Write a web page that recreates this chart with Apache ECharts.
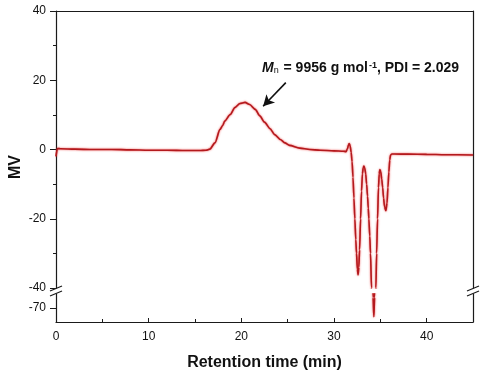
<!DOCTYPE html>
<html>
<head>
<meta charset="utf-8">
<script src="https://cdn.jsdelivr.net/npm/echarts@6/dist/echarts.min.js"></script>
<style>
html,body{margin:0;padding:0;background:#fff;}
#chart{width:482px;height:380px;}
</style>
</head>
<body>
<div id="chart"></div>
<script>
// Retention time (min)
const times = [
  0, 0.15, 0.5, 2, 4, 6, 8, 10, 12, 14, 15.5, 16.2, 16.6, 17.15, 17.7, 18.0, 18.2, 18.8, 19.3, 19.85,
  20.4, 20.9, 21.5, 22.0, 22.5, 23.1, 23.6, 24.2, 24.7, 25.2, 26.3, 27.4, 28.5, 30.0, 31.0, 31.3,
  31.45, 31.55, 31.64, 31.75, 31.85, 31.95, 32.05, 32.15, 32.25, 32.35, 32.43, 32.52, 32.6, 32.68,
  32.76, 32.87, 32.97, 33.07, 33.15, 33.23, 33.32, 33.42, 33.52, 33.62, 33.7, 33.76, 33.86, 33.94, 34.05,
  34.15, 34.22, 34.3, 34.38, 34.45, 34.52, 34.6, 34.7, 34.8, 34.88, 34.95, 35.05, 35.15, 35.25,
  35.35, 35.45, 35.6, 35.72, 35.82, 35.92, 36.02, 36.1, 36.25, 36.5, 38, 40, 42, 45
];
// Detector signal (MV)
const signal = [
  -2.0, 0.3, 0.2, 0.1, 0.0, 0.0, -0.1, -0.2, -0.2, -0.3, -0.3, -0.2, 0.1, 1.9, 5.8, 7.0, 8.2, 10.1, 12.1, 13.3,
  13.6, 13.0, 11.6, 9.7, 7.9, 6.0, 4.3, 2.9, 1.9, 1.2, 0.4, 0.0, -0.2, -0.4, -0.5, -0.6,
  0.2, 1.2, 1.7, 1.0, -0.8, -3.5, -8, -14, -20, -26, -30, -34.5, -36.2, -34,
  -29, -20, -12, -7, -5.3, -4.8, -5.4, -7, -10, -13.5, -17, -20, -25, -30, -40,
  -58, -67, -72.5, -67, -55, -40, -30, -20, -11, -7, -5.8, -6.5, -8.5, -11,
  -14, -16.5, -17.7, -15.5, -11, -6.5, -3, -1.6, -1.3, -1.3, -1.35, -1.4, -1.5, -1.6
];
// axis tick values
const xTicks = [0, 10, 20, 30, 40];
const upperTicks = [-40, -20, 0, 20, 40];
const lowerTicks = [-70];
// annotation
const annotationText = '{it|M}{sub|n} = 9956 g mol{sup|-1}, PDI = 2.029';
const arrowFrom = [24.8, 19.3];
const arrowTo = [22.35, 12.5];

const data = times.map((t, i) => [t, signal[i]]);
const FONT = "'Liberation Sans', Arial, sans-serif";
const AX = '#1a1a1a';
const LINE = '#b3191d';

const chart = echarts.init(document.getElementById('chart'), null, {renderer: 'canvas'});
const frameAxis = {
  axisLine: {show: true, onZero: false, lineStyle: {color: AX, width: 1.2}},
  axisTick: {show: false}, axisLabel: {show: false}, splitLine: {show: false}
};
const lineStyle = {color: LINE, width: 1.6, shadowColor: 'rgba(235,40,40,0.85)', shadowBlur: 2};
chart.setOption({
  animation: false,
  backgroundColor: '#fff',
  grid: [
    {left: 56, top: 11, width: 417, height: 277},
    {left: 56, top: 294, width: 417, height: 28}
  ],
  xAxis: [
    {type: 'value', gridIndex: 0, min: 0, max: 45, show: false},
    Object.assign({type: 'value', gridIndex: 0, position: 'top', min: 0, max: 45}, frameAxis),
    {
      type: 'value', gridIndex: 1, min: 0, max: 45, interval: 10,
      axisLine: {onZero: false, lineStyle: {color: AX, width: 1.2}},
      axisTick: {inside: true, length: 4, lineStyle: {color: AX}, customValues: xTicks},
      minorTick: {show: true, splitNumber: 2, length: 3, lineStyle: {color: AX}},
      axisLabel: {color: '#111', fontSize: 12, fontFamily: FONT, margin: 9, customValues: xTicks},
      splitLine: {show: false},
      name: 'Retention time (min)', nameLocation: 'middle', nameGap: 33,
      nameTextStyle: {fontSize: 16, fontWeight: 'bold', fontFamily: FONT, color: '#111'}
    }
  ],
  yAxis: [
    {
      type: 'value', gridIndex: 0, min: -40, max: 40, interval: 20,
      axisLine: {show: true, onZero: false, lineStyle: {color: AX, width: 1.2}},
      axisTick: {show: true, inside: false, length: 6, lineStyle: {color: AX}},
      minorTick: {show: true, splitNumber: 2, length: 3, lineStyle: {color: AX}},
      axisLabel: {color: '#111', fontSize: 12, fontFamily: FONT, margin: 10},
      splitLine: {show: false}
    },
    Object.assign({type: 'value', gridIndex: 0, position: 'right', min: -40, max: 40}, frameAxis),
    {
      type: 'value', gridIndex: 1, min: -74, max: -66,
      axisLine: {show: true, onZero: false, lineStyle: {color: AX, width: 1.2}},
      axisTick: {show: true, length: 6, lineStyle: {color: AX}, customValues: lowerTicks},
      axisLabel: {color: '#111', fontSize: 12, fontFamily: FONT, margin: 10, customValues: lowerTicks},
      splitLine: {show: false}
    },
    Object.assign({type: 'value', gridIndex: 1, position: 'right', min: -74, max: -66}, frameAxis)
  ],
  series: [
    {
      type: 'line', xAxisIndex: 0, yAxisIndex: 0, data: data, showSymbol: false,
      smooth: 0.25, smoothMonotone: 'x', clip: true,
      lineStyle: lineStyle,
      markLine: {
        silent: true, symbol: ['none', 'arrow'], symbolSize: [9, 11],
        label: {show: false},
        lineStyle: {color: '#111', width: 1.6, type: 'solid'},
        data: [[{coord: arrowFrom}, {coord: arrowTo}]]
      }
    },
    {
      type: 'line', xAxisIndex: 2, yAxisIndex: 2, data: data, showSymbol: false,
      smooth: 0.25, smoothMonotone: 'x', clip: true,
      lineStyle: lineStyle
    }
  ],
  graphic: [
    {type: 'text', x: 16, y: 167, rotation: Math.PI / 2,
     style: {text: 'MV', fontSize: 16, fontWeight: 'bold', fontFamily: FONT, fill: '#111',
             align: 'center', verticalAlign: 'middle'}},
    {type: 'text', x: 262, y: 68,
     style: {text: annotationText, fontSize: 14, fontWeight: 'bold', fontFamily: FONT, fill: '#111',
             align: 'left', verticalAlign: 'middle',
             rich: {
               it: {fontSize: 14, fontWeight: 'bold', fontStyle: 'italic', fontFamily: FONT, fill: '#111'},
               sub: {fontSize: 9, fontWeight: 'normal', fontFamily: FONT, fill: '#111', verticalAlign: 'bottom', padding: [4, 1, 0, 0]},
               sup: {fontSize: 9, fontWeight: 'bold', fontFamily: FONT, fill: '#111', verticalAlign: 'top', padding: [0, 0, 5, 1]}
             }}},
    {type: 'line', shape: {x1: 50, y1: 291, x2: 62, y2: 286}, style: {stroke: AX, lineWidth: 1.2}},
    {type: 'line', shape: {x1: 50, y1: 296, x2: 62, y2: 291}, style: {stroke: AX, lineWidth: 1.2}},
    {type: 'line', shape: {x1: 467, y1: 291, x2: 479, y2: 286}, style: {stroke: AX, lineWidth: 1.2}},
    {type: 'line', shape: {x1: 467, y1: 296, x2: 479, y2: 291}, style: {stroke: AX, lineWidth: 1.2}}
  ]
});
</script>
</body>
</html>
